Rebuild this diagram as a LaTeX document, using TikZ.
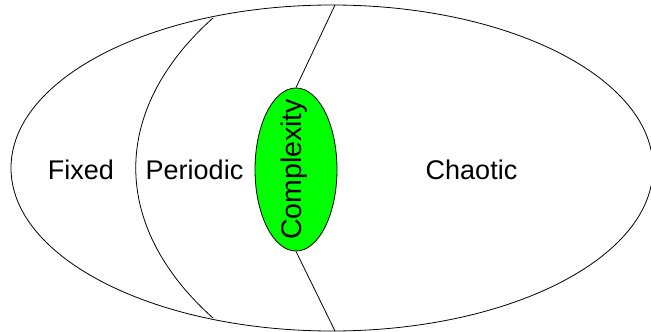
\documentclass[tikz,border=0pt]{standalone}
\usepackage{fontspec}
\setmainfont{Liberation Sans}
\usetikzlibrary{shapes.geometric}
\begin{document}
\begin{tikzpicture}[x=1pt,y=-1pt,
  outline/.style={draw=black,line width=0.8pt},
  region/.style={font=\fontsize{27}{32}\selectfont,inner sep=0pt},
  core/.style={ellipse,draw=black,line width=0.8pt,fill=green,minimum width=82pt,minimum height=163pt,inner sep=0pt}]
\useasboundingbox (0,0) rectangle (651,332);
\clip (0,0) rectangle (651,332);
\fill[white] (0,0) rectangle (651,332);
\draw[outline] (332,168) ellipse [x radius=321, y radius=163];
\coordinate (pt) at (213,18);
\coordinate (pb) at (213,318);
\draw[outline] (pt) .. controls (110,110) and (110,226) .. (pb);
\node[core] (cx) at (296,169.5) {};
\node[region,rotate=90,font=\fontsize{28.5}{33}\selectfont] (cxl) at (294,169.5) {Complexity};
\coordinate (lt) at (335,5);
\coordinate (lb) at (335,331);
\draw[outline] (cx.north) -- (lt);
\draw[outline] (cx.south) -- (lb);
\node[region] (fixed) at (81,170) {Fixed};
\node[region] (periodic) at (194.5,170) {Periodic};
\node[region] (chaotic) at (471.5,170) {Chaotic};
\end{tikzpicture}
\end{document}
